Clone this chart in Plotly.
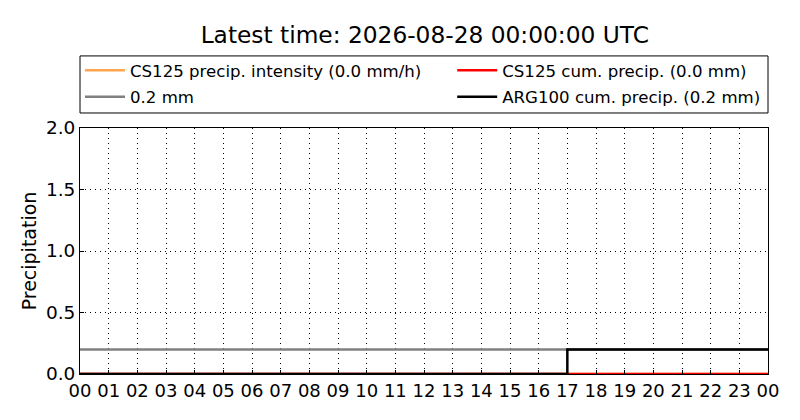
import plotly.graph_objects as go

hours = list(range(0, 25))
tick_labels = ["%02d" % (h % 24) for h in hours]

cs125_intensity = [0.0] * 25
cs125_cum = [0.0] * 25
ref_level = [0.2] * 25
arg100_cum = [0.0] * 17 + [0.2] * 8

fig = go.Figure()
fig.add_trace(go.Scatter(x=hours, y=cs125_intensity, mode="lines", line=dict(color="#ffa64d", width=2.5, shape="hv"),
                         name="CS125 precip. intensity (0.0 mm/h)", legend="legend", legendgroup="a"))
fig.add_trace(go.Scatter(x=hours, y=cs125_cum, mode="lines", line=dict(color="red", width=2.5, shape="hv"),
                         name="CS125 cum. precip. (0.0 mm)", legend="legend2", legendgroup="b"))
fig.add_trace(go.Scatter(x=hours, y=ref_level, mode="lines", line=dict(color="gray", width=2.5, shape="hv"),
                         name="0.2 mm", legend="legend", legendgroup="c"))
fig.add_trace(go.Scatter(x=hours, y=arg100_cum, mode="lines", line=dict(color="black", width=2.5, shape="hv"),
                         name="ARG100 cum. precip. (0.2 mm)", legend="legend2", legendgroup="d"))

font_family = "DejaVu Sans"
leg_common = dict(orientation="v", yanchor="top", xanchor="left", y=1.305,
                  bgcolor="rgba(0,0,0,0)", borderwidth=0, tracegroupgap=2, itemwidth=40,
                  font=dict(size=16.6, family=font_family, color="black"))
fig.update_layout(
    width=800, height=420,
    margin=dict(l=72, r=40, t=120, b=54, autoexpand=False),
    paper_bgcolor="white", plot_bgcolor="white",
    font=dict(family=font_family, color="black", size=16),
    title=dict(text="Latest time: 2026-08-28 00:00:00 UTC", x=0.521, xanchor="center", y=0.936, yanchor="middle",
               font=dict(size=23.3, family=font_family, color="black")),
    showlegend=True,
    legend=dict(x=0.0, **leg_common),
    legend2=dict(x=0.541, **leg_common),
    shapes=[dict(type="rect", xref="paper", yref="paper", x0=0, x1=1, y0=1.061, y1=1.293,
                 line=dict(color="black", width=1), fillcolor="rgba(0,0,0,0)", layer="below")],
    xaxis=dict(range=[0, 24], tickmode="array", tickvals=hours, ticktext=tick_labels,
               showgrid=True, gridcolor="black", griddash="1px,4px", gridwidth=1,
               showline=True, linecolor="black", linewidth=1, mirror=True,
               ticks="inside", ticklen=4, tickcolor="black",
               tickfont=dict(size=18, family=font_family), zeroline=False),
    yaxis=dict(range=[0, 2.0], tickmode="array", tickvals=[0, 0.5, 1.0, 1.5, 2.0],
               ticktext=["0.0", "0.5", "1.0", "1.5", "2.0"],
               showgrid=True, gridcolor="black", griddash="1px,4px", gridwidth=1,
               showline=True, linecolor="black", linewidth=1, mirror=True,
               ticks="inside", ticklen=4, tickcolor="black",
               tickfont=dict(size=18.5, family=font_family), zeroline=False,
               title=dict(text="Precipitation", font=dict(size=19, family=font_family), standoff=4)),
)

fig.write_html("out.html")
